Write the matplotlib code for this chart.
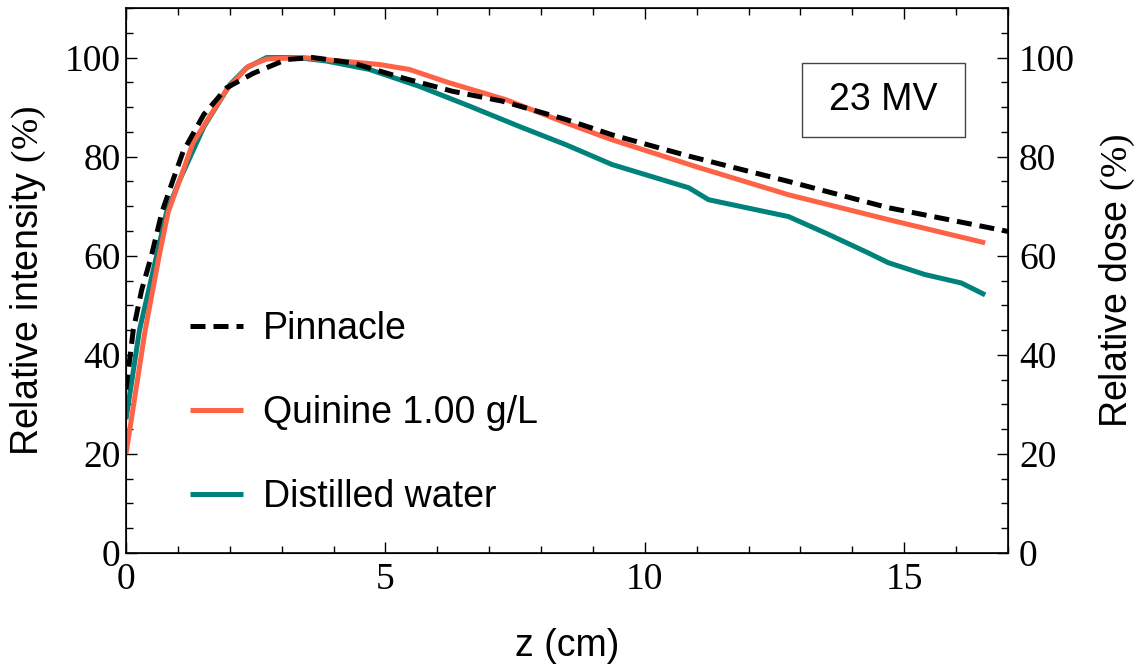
import matplotlib
matplotlib.use("Agg")
import matplotlib.pyplot as plt
from matplotlib.ticker import MultipleLocator
from matplotlib.patches import Rectangle

plt.rcParams['mathtext.fontset'] = 'custom'
plt.rcParams['mathtext.it'] = 'Liberation Serif:italic'
plt.rcParams['mathtext.rm'] = 'Liberation Serif'

# ---- data ----
pinnacle_z = [0, 0.14, 0.3, 0.49, 0.69, 0.91, 1.1, 1.5, 1.94, 2.45, 3.09, 3.6,
              4.37, 5.33, 6.29, 7.25, 8.48, 9.37, 10.85, 12.77, 14.69, 17.0]
pinnacle_y = [33, 45, 53, 60, 68.7, 75.4, 81.0, 88.5, 93.9, 96.8, 99.6, 100,
              98.9, 95.9, 93.2, 91.2, 87.5, 84.4, 80.1, 75.0, 69.7, 64.9]

quinine_z = [0, 0.37, 0.64, 0.81, 1.04, 1.29, 1.94, 2.35, 2.71, 3.41, 4.88,
             5.46, 6.2, 7.32, 8.48, 9.37, 11.04, 12.77, 14.69, 16.56]
quinine_y = [20, 45, 60, 68.7, 75.4, 82.8, 93.5, 98.2, 99.7, 100, 98.6,
             97.6, 95.0, 91.5, 86.8, 83.4, 77.8, 72.3, 67.3, 62.6]

water_z = [0, 0.26, 0.59, 0.78, 1.04, 1.5, 2.0, 2.32, 2.71, 3.3, 3.86, 4.69,
           5.65, 6.62, 7.58, 8.48, 9.37, 10.85, 11.23, 12.77, 13.5, 14.3,
           14.69, 15.4, 16.1, 16.56]
water_y = [27, 45, 60, 68.7, 75.4, 86, 94.5, 97.9, 100, 100, 99.3, 97.6,
           94.2, 90.2, 86.1, 82.4, 78.4, 73.7, 71.3, 67.9, 64.5, 60.6,
           58.6, 56.2, 54.5, 52.1]

labels = ["Pinnacle", "Quinine 1.00 g/L", "Distilled water"]
energy_label = "23 MV"

fig = plt.figure(figsize=(11.38, 6.68), dpi=100)
ax = fig.add_axes([126/1138, 1-553/668, (1008-126)/1138, (553-8)/668])

l_w, = ax.plot(water_z, water_y, color='#00827c', lw=3.6, solid_capstyle='butt', zorder=2)
l_q, = ax.plot(quinine_z, quinine_y, color='#ff6347', lw=3.6, solid_capstyle='butt', zorder=3)
l_p, = ax.plot(pinnacle_z, pinnacle_y, color='black', lw=3.6, dashes=(3, 1.6), zorder=4)

ax.set_xlim(0, 17)
ax.set_ylim(0, 110)

serif = 'Liberation Serif'
sans = 'Liberation Sans'
FS = 27

ax.xaxis.set_major_locator(MultipleLocator(5))
ax.xaxis.set_minor_locator(MultipleLocator(1))
ax.yaxis.set_major_locator(MultipleLocator(20))
ax.yaxis.set_minor_locator(MultipleLocator(5))
ax.tick_params(which='both', direction='in', top=True, right=False, width=1.0)
ax.tick_params(which='major', length=8)
ax.tick_params(which='minor', length=5)
ax.tick_params(axis='x', which='major', pad=7)
ax.tick_params(axis='y', which='major', pad=4)
ax.set_yticks([0, 20, 40, 60, 80, 100])
for t in ax.get_xticklabels() + ax.get_yticklabels():
    t.set_fontfamily(serif)
    t.set_fontsize(FS)

ax2 = ax.twinx()
ax2.set_ylim(0, 110)
ax2.yaxis.set_major_locator(MultipleLocator(20))
ax2.yaxis.set_minor_locator(MultipleLocator(5))
ax2.set_yticks([0, 20, 40, 60, 80, 100])
ax2.tick_params(which='both', direction='in', width=1.0)
ax2.tick_params(which='major', length=8, pad=8)
ax2.tick_params(which='minor', length=5)
for t in ax2.get_yticklabels():
    t.set_fontfamily(serif)
    t.set_fontsize(FS)

ax.set_xlabel("z (cm)", fontfamily=sans, fontsize=FS, labelpad=22)
ax.set_ylabel(r"Relative intensity $\mathit{(\%)}$", fontfamily=sans, fontsize=FS, labelpad=12)
ax2.set_ylabel(r"Relative dose $\mathit{(\%)}$", fontfamily=sans, fontsize=FS, labelpad=16)

leg = ax.legend([l_p, l_q, l_w], labels, loc='upper left',
                bbox_to_anchor=(0.0726, 0.444), frameon=False, borderpad=0,
                borderaxespad=0,
                prop={'family': sans, 'size': FS}, handlelength=1.4,
                handletextpad=0.55, labelspacing=1.28)

ax.add_patch(Rectangle((0.7664, 0.7633), 0.9512 - 0.7664, 0.899 - 0.7633,
                       transform=ax.transAxes, fc='white', ec='#444444', lw=1.0,
                       zorder=5))
ax.text(0.859, 0.831, energy_label, transform=ax.transAxes, ha='center', va='center',
        fontfamily=sans, fontsize=FS, zorder=6)

for s in ax.spines.values():
    s.set_linewidth(1.2)

fig.savefig("out.png", dpi=100)
